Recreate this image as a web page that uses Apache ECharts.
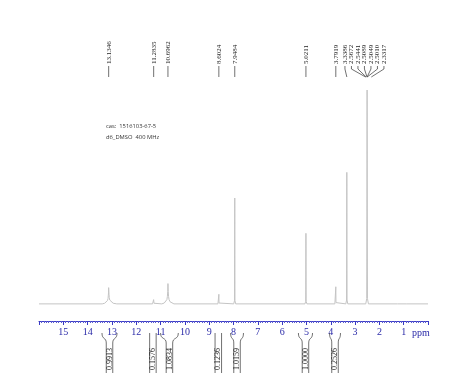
<!DOCTYPE html>
<html><head><meta charset="utf-8">
<script src="https://cdn.jsdelivr.net/npm/echarts@6/dist/echarts.min.js"></script>
<style>html,body{margin:0;padding:0;background:#fff}#c{width:474px;height:390px}</style>
</head><body><div id="c"></div>
<script>
// ---- data ----
const xMin = 0, xMax = 16, xStep = 1;
const axisName = 'ppm';
const infoLines = ['cas:  1516103-67-5', 'd6_DMSO  400 MHz'];

// spectrum (ppm, relative intensity)
const spectrumPpm = [16.0, 13.40, 13.30, 13.22, 13.18, 13.16, 13.15, 13.14, 13.135, 13.12, 13.11, 13.09, 13.05, 12.95, 12.80,
  11.33, 11.30, 11.285, 11.27, 11.24,
  10.95, 10.85, 10.78, 10.74, 10.72, 10.705, 10.696, 10.685, 10.67, 10.65, 10.61, 10.54, 10.45,
  8.64, 8.61, 8.602, 8.595, 8.57,
  7.99, 7.96, 7.948, 7.94, 7.91,
  5.06, 5.03, 5.021, 5.012, 4.98,
  3.83, 3.80, 3.792, 3.785, 3.76,
  3.38, 3.35, 3.339, 3.33, 3.30,
  2.56, 2.52, 2.505, 2.49, 2.45,
  1.25, 1.235, 1.22, 0.87, 0.855, 0.84, 0.0];
const spectrumInt = [0, 0, 0.3, 0.8, 1.6, 2.6, 3.8, 5.5, 7.6, 4.5, 3.0, 1.8, 0.9, 0.3, 0,
  0, 0.3, 2.0, 0.3, 0,
  0, 0.4, 1.0, 2.0, 3.4, 5.8, 9.5, 5.8, 3.4, 2.0, 1.0, 0.4, 0,
  0, 0.4, 4.5, 0.4, 0,
  0, 1.5, 49.5, 1.5, 0,
  0, 1.2, 33, 1.2, 0,
  0, 0.6, 8, 0.6, 0,
  0, 1.8, 61.5, 1.8, 0,
  0, 2.5, 100, 2.5, 0,
  0, 0.6, 0, 0, 0.4, 0, 0];

const peakLabels = [13.1346, 11.2835, 10.6962, 8.6024, 7.9484, 5.0211, 3.7919, 3.3386, 2.5672, 2.5441, 2.5089, 2.5049, 2.5010, 2.3317];

const intFrom = [13.41, 11.42, 11.00, 8.74, 8.12, 5.33, 4.05];
const intTo = [12.79, 11.21, 10.27, 8.51, 7.59, 4.75, 3.60];
const intValues = ['0.9913', '0.1576', '1.0834', '0.1236', '1.0159', '1.0000', '0.2526'];

// ---- chart ----
const yMin = -8, yMax = 100;
const chart = echarts.init(document.getElementById('c'));
const lineCol = '#333';

function renderPeakLabels(params, api) {
  const items = peakLabels.map(v => ({ v: v, px: api.coord([v, 0])[0] }));
  items.sort((a, b) => a.px - b.px);
  const gap = 6.5;
  const pos = items.map(i => i.px);
  for (let it = 0; it < 300; it++) {
    for (let i = 1; i < pos.length; i++) {
      const d = pos[i] - pos[i - 1];
      if (d < gap) { const s = (gap - d) / 2; pos[i - 1] -= s; pos[i] += s; }
    }
  }
  const top = api.coord([0, yMax])[1];
  const textY = top - 26, l0 = top - 24, l1 = top - 21, l2 = top - 13;
  const children = [];
  items.forEach((it, i) => {
    const lx = pos[i];
    children.push({
      type: 'text', x: lx, y: textY, rotation: Math.PI / 2,
      style: { text: it.v.toFixed(4), align: 'left', verticalAlign: 'middle', fill: '#222', font: '7px "Liberation Serif"' }
    });
    children.push({
      type: 'polyline',
      shape: { points: [[lx, l0], [lx, l1], [it.px, l2]] },
      style: { stroke: lineCol, lineWidth: 0.7, fill: null }
    });
  });
  return { type: 'group', children: children };
}

function renderIntegral(params, api) {
  const i = api.value(2);
  const x1 = api.coord([api.value(0), 0])[0];
  const x2 = api.coord([api.value(1), 0])[0];
  const a = Math.min(x1, x2), b = Math.max(x1, x2);
  const axisY = api.coord([0, yMin])[1];
  const top = axisY + 12, boxTop = top + 10, bottom = top + 40;
  const bw = 6.5, cx = (a + b) / 2;
  const bl = cx - bw / 2, br = cx + bw / 2;
  const st = { stroke: lineCol, lineWidth: 0.7, fill: null };
  const children = [];
  if (b - a <= bw + 2) {
    children.push({ type: 'line', shape: { x1: bl, y1: top, x2: bl, y2: bottom }, style: st });
    children.push({ type: 'line', shape: { x1: br, y1: top, x2: br, y2: bottom }, style: st });
  } else {
    children.push({ type: 'bezierCurve', shape: { x1: a, y1: top, cpx1: a, cpy1: top + 7, cpx2: bl, cpy2: top + 4, x2: bl, y2: boxTop }, style: st });
    children.push({ type: 'bezierCurve', shape: { x1: b, y1: top, cpx1: b, cpy1: top + 7, cpx2: br, cpy2: top + 4, x2: br, y2: boxTop }, style: st });
    children.push({ type: 'line', shape: { x1: bl, y1: boxTop, x2: bl, y2: bottom }, style: st });
    children.push({ type: 'line', shape: { x1: br, y1: boxTop, x2: br, y2: bottom }, style: st });
  }
  children.push({
    type: 'text', x: cx, y: (boxTop + bottom) / 2 + 1, rotation: Math.PI / 2,
    style: { text: intValues[i], align: 'center', verticalAlign: 'middle', fill: '#222', font: '8px "Liberation Serif"' }
  });
  return { type: 'group', children: children };
}

chart.setOption({
  animation: false,
  backgroundColor: '#fff',
  title: {
    text: infoLines.join('\n'), left: 106, top: 121, padding: 0,
    textStyle: { fontSize: 5.8, fontWeight: 'normal', color: '#333', fontFamily: 'Open Sans', lineHeight: 11 }
  },
  grid: { left: 39, right: 46, top: 90, bottom: 69 },
  xAxis: {
    type: 'value', min: xMin, max: xMax, interval: xStep, inverse: true,
    name: axisName, nameLocation: 'start', nameGap: -10,
    nameTextStyle: { color: '#2a2aa8', fontFamily: 'Liberation Serif', fontSize: 10, align: 'center', verticalAlign: 'top', padding: [7, 0, 0, 0] },
    axisLine: { show: true, onZero: false, lineStyle: { color: '#3a3ac4', width: 1 } },
    axisTick: { show: true, length: 4, lineStyle: { color: '#3a3ac4' } },
    minorTick: { show: true, splitNumber: 10, length: 2, lineStyle: { color: '#5a5ad0' } },
    axisLabel: {
      color: '#2a2aa8', fontFamily: 'Liberation Serif', fontSize: 10, margin: 6,
      formatter: v => (v === xMin || v === xMax) ? '' : String(v)
    },
    splitLine: { show: false }, minorSplitLine: { show: false }
  },
  yAxis: { type: 'value', min: yMin, max: yMax, show: false, splitLine: { show: false } },
  series: [
    {
      type: 'line', data: spectrumPpm.map((p, i) => [p, spectrumInt[i]]),
      showSymbol: false, symbol: 'none', lineStyle: { color: '#c4c4c4', width: 1 }, silent: true
    },
    {
      type: 'custom', data: [[8, 50]], renderItem: renderPeakLabels, clip: false, silent: true
    },
    {
      type: 'custom', data: intFrom.map((f, i) => [f, intTo[i], i]), renderItem: renderIntegral,
      encode: { x: [0, 1] }, clip: false, silent: true
    }
  ]
});
</script></body></html>
